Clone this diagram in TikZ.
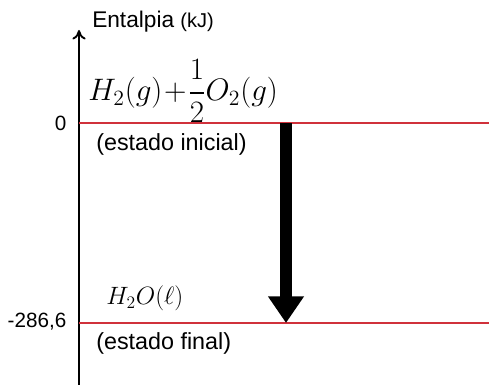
\documentclass[tikz,border=0pt]{standalone}
\usepackage{fix-cm}
\usepackage{amsmath}
\usepackage{fontspec}
\setmainfont{Liberation Sans}
\usetikzlibrary{arrows.meta, positioning}
\definecolor{levelRed}{HTML}{D0313B}
\tikzset{
  axisArrow/.style={-{To[length=2.5mm, width=3.5mm]}, line width=1.4pt, black},
  levelLine/.style={levelRed, line width=0.9pt},
  bigArrow/.style={-{Triangle[length=7mm, width=9mm]}, line width=9pt, black},
  stateLabel/.style={anchor=west, font=\fontsize{17.5}{20}\selectfont},
  valueLabel/.style={anchor=east, font=\fontsize{15.5}{18}\selectfont},
}
\begin{document}
\begin{tikzpicture}[x=0.75pt, y=-0.75pt]
    \useasboundingbox (0,0) rectangle (489,385);
    % axis
    \coordinate (axisBot) at (79,385);
    \coordinate (axisTop) at (79,30);
    \draw[axisArrow] (axisBot) -- (axisTop);
    \node[anchor=base west, inner sep=0pt] (ylabel) at (92,28)
      {\fontsize{17}{19}\selectfont Entalpia \fontsize{15}{17}\selectfont(kJ)};
    % levels
    \coordinate (initL) at (79,123);
    \coordinate (initR) at (489,123);
    \coordinate (finL) at (79,323);
    \coordinate (finR) at (489,323);
    \draw[levelLine] (initL) -- (initR);
    \draw[levelLine] (finL) -- (finR);
    \node[valueLabel] (zero) at (71,123) {0};
    \node[valueLabel] (final) at (71,322) {-286,6};
    % states
    \node[anchor=west, inner sep=0pt] (reag) at (88,91)
      {\fontsize{23.3}{27}\selectfont $H_2(g)\!+\!\dfrac{1}{2}O_2(g)$};
    \node[stateLabel, inner sep=0pt] (inicial) at (96,144) {(estado inicial)};
    \node[anchor=west, inner sep=0pt] (prod) at (106,298)
      {\fontsize{18.8}{21}\selectfont $H_2O(\ell)$};
    \node[stateLabel, inner sep=0pt] (estfinal) at (96,343) {(estado final)};
    % enthalpy change
    \coordinate (arrStart) at (286,123);
    \coordinate (arrEnd) at (286,323);
    \draw[bigArrow] (arrStart) -- (arrEnd);
  \end{tikzpicture}
\end{document}
